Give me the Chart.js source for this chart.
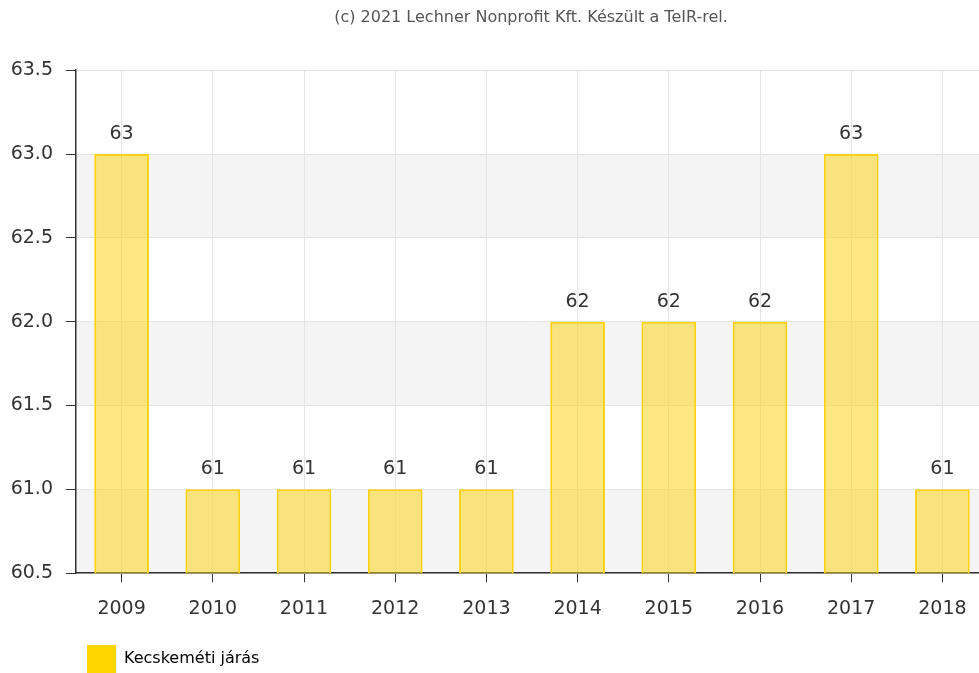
<!DOCTYPE html>
<html lang="hu">
<head>
<meta charset="utf-8">
<script src="https://cdn.jsdelivr.net/npm/chart.js@4.4.0/dist/chart.umd.min.js"></script>
<style>
  html, body { margin: 0; padding: 0; background: #fff; overflow: hidden; }
  #doboz { width: 1062px; height: 673px; }
</style>
</head>
<body>
<div id="doboz"><canvas id="grafikon" width="1062" height="673"></canvas></div>
<script>
// --- ADATOK ---
const EVEK = ['2009', '2010', '2011', '2012', '2013', '2014', '2015', '2016', '2017', '2018'];
const ERTEKEK = [63, 61, 61, 61, 61, 62, 62, 62, 63, 61];
const Y_TICKEK = [60.5, 61.0, 61.5, 62.0, 62.5, 63.0, 63.5];
const CIM = '(c) 2021 Lechner Nonprofit Kft. Készült a TeIR-rel.';
const SOROZAT_NEV = 'Kecskeméti járás';

const BETU = 'DejaVu Sans, Verdana, sans-serif';
const SZOVEG_SZIN = '#333';

// szürke sávok minden második osztás között
const savok = {
  id: 'savok',
  beforeDraw(chart) {
    const { ctx, chartArea, scales } = chart;
    const y = scales.y;
    ctx.save();
    ctx.fillStyle = '#f4f4f4';
    for (let i = 0; i < Y_TICKEK.length - 1; i += 2) {
      const felso = y.getPixelForValue(Y_TICKEK[i + 1]);
      const also = y.getPixelForValue(Y_TICKEK[i]);
      ctx.fillRect(chartArea.left, felso, chartArea.right - chartArea.left, also - felso);
    }
    ctx.restore();
  }
};

// értékek az oszlopok fölött
const feliratok = {
  id: 'feliratok',
  afterDatasetsDraw(chart) {
    const { ctx } = chart;
    const meta = chart.getDatasetMeta(0);
    ctx.save();
    ctx.font = '19px ' + BETU;
    ctx.fillStyle = SZOVEG_SZIN;
    ctx.textAlign = 'center';
    ctx.textBaseline = 'alphabetic';
    meta.data.forEach((bar, i) => {
      ctx.fillText(String(ERTEKEK[i]), bar.x, bar.y - 15);
    });
    ctx.restore();
  }
};

// cím és jelmagyarázat helyének igazítása
const igazitas = {
  id: 'igazitas',
  afterLayout(chart) {
    if (chart.titleBlock) chart.titleBlock.right = chart.width;
    if (chart.legend) chart.legend.left = 87;
  }
};

new Chart(document.getElementById('grafikon'), {
  type: 'bar',
  data: {
    labels: EVEK,
    datasets: [{
      label: SOROZAT_NEV,
      data: ERTEKEK,
      backgroundColor: 'rgba(252, 210, 20, 0.52)',
      borderColor: '#fcd214',
      borderWidth: 2,
      barPercentage: 0.6,
      categoryPercentage: 1.0
    }]
  },
  options: {
    responsive: false,
    animation: false,
    devicePixelRatio: 1,
    layout: { padding: { left: 0, right: 74, top: 0, bottom: -10 } },
    scales: {
      x: {
        afterFit: s => { s.height += 10; },
        grid: { color: '#e4e4e4', offset: false, tickColor: SZOVEG_SZIN, tickLength: 9, lineWidth: 1 },
        border: { color: SZOVEG_SZIN, width: 1.5 },
        ticks: { color: SZOVEG_SZIN, font: { family: BETU, size: 19 }, padding: 15, maxRotation: 0 }
      },
      y: {
        min: 60.5,
        max: 63.5,
        afterBuildTicks: s => { s.ticks = Y_TICKEK.map(v => ({ value: v })); },
        afterFit: s => { s.width = 76; },
        grid: { color: '#e4e4e4', tickColor: SZOVEG_SZIN, tickLength: 10 },
        border: { color: SZOVEG_SZIN, width: 1.5 },
        ticks: {
          color: SZOVEG_SZIN,
          font: { family: BETU, size: 19 },
          padding: 13,
          callback: v => Number(v).toFixed(1)
        }
      }
    },
    plugins: {
      title: {
        display: true,
        text: CIM,
        color: '#555',
        font: { family: BETU, size: 16, weight: 'normal' },
        padding: { top: 8, bottom: 43 }
      },
      legend: {
        position: 'bottom',
        align: 'start',
        labels: {
          color: SZOVEG_SZIN,
          font: { family: BETU, size: 16 },
          boxWidth: 29,
          boxHeight: 28,
          padding: 0,
          generateLabels: () => [{
            text: SOROZAT_NEV,
            fillStyle: '#ffd700',
            strokeStyle: '#ffd700',
            lineWidth: 0,
            hidden: false,
            datasetIndex: 0
          }]
        }
      },
      tooltip: { enabled: false }
    }
  },
  plugins: [savok, feliratok, igazitas]
});
</script>
</body>
</html>
